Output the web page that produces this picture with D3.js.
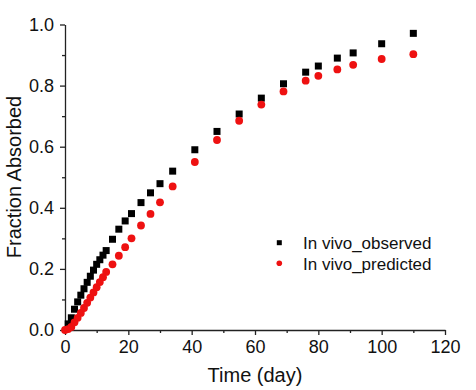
<!DOCTYPE html>
<html><head><meta charset="utf-8">
<script src="https://cdn.jsdelivr.net/npm/d3@7"></script>
<style>body{margin:0;background:#fff}svg{display:block}text{font-family:Arial,"Liberation Sans",sans-serif;fill:#111}</style>
</head><body><svg id="c" width="476" height="390"></svg>
<script>
const obsTime = [1,2,3,4,5,6,7,8,9,10,11,12,13,15,17,19,21,24,27,30,34,41,48,55,62,69,76,80,86,91,100,110];
const obsValue = [0.02,0.04,0.068,0.092,0.114,0.135,0.156,0.176,0.196,0.215,0.23,0.245,0.26,0.297,0.33,0.357,0.381,0.417,0.449,0.479,0.52,0.59,0.65,0.707,0.759,0.806,0.844,0.864,0.89,0.907,0.937,0.971];
const predTime = [0,1,2,3,4,5,6,7,8,9,10,11,12,13,15,17,19,21,24,27,30,34,41,48,55,62,69,76,80,86,91,100,110];
const predValue = [0,0.003,0.01,0.025,0.04,0.056,0.072,0.089,0.106,0.123,0.14,0.157,0.173,0.19,0.215,0.243,0.271,0.30,0.342,0.38,0.418,0.47,0.55,0.622,0.685,0.738,0.781,0.816,0.832,0.853,0.868,0.887,0.903];
const xTicks = [0,20,40,60,80,100,120];
const yTicks = [0.0,0.2,0.4,0.6,0.8,1.0];
const seriesNames = ["In vivo_observed","In vivo_predicted"];

const svg = d3.select("#c");
const x = d3.scaleLinear().domain([0,120]).range([65,445]);
const y = d3.scaleLinear().domain([0,1]).range([330,24.5]);

function axisStyle(g){
  g.select(".domain").attr("stroke","#222").attr("stroke-width",1.3);
  g.selectAll(".tick line").attr("stroke","#222").attr("stroke-width",1.3);
  g.selectAll("text").style("font-size","18px").attr("fill","#111");
}
// minor ticks
svg.append("g").attr("transform","translate(0,330)")
  .call(d3.axisBottom(x).tickValues(d3.range(10,120,20)).tickSize(3).tickFormat(""))
  .call(g=>{g.select(".domain").remove();g.selectAll("line").attr("stroke","#222").attr("stroke-width",1.3);});
svg.append("g").attr("transform","translate(65,0)")
  .call(d3.axisLeft(y).tickValues(d3.range(0.1,1,0.2)).tickSize(3).tickFormat(""))
  .call(g=>{g.select(".domain").remove();g.selectAll("line").attr("stroke","#222").attr("stroke-width",1.3);});
svg.append("g").attr("transform","translate(0,330)")
  .call(d3.axisBottom(x).tickValues(xTicks).tickSize(5).tickSizeOuter(0).tickPadding(5).tickFormat(d3.format("d")))
  .call(axisStyle);
svg.append("g").attr("transform","translate(65,0)")
  .call(d3.axisLeft(y).tickValues(yTicks).tickSize(5).tickSizeOuter(0).tickPadding(6).tickFormat(d3.format(".1f")))
  .call(axisStyle);

svg.append("text").attr("x",255).attr("y",382).attr("text-anchor","middle").style("font-size","20px").text("Time (day)");
svg.append("text").attr("transform","translate(21,177) rotate(-90)").attr("text-anchor","middle").style("font-size","20px").text("Fraction Absorbed");

const obs = obsTime.map((t,i)=>({t,v:obsValue[i]}));
const pred = predTime.map((t,i)=>({t,v:predValue[i]}));
const s = 7;
svg.append("g").selectAll("rect").data(obs).join("rect")
  .attr("x",d=>x(d.t)-s/2).attr("y",d=>y(d.v)-s/2).attr("width",s).attr("height",s).attr("fill","#000");
svg.append("g").selectAll("circle").data(pred).join("circle")
  .attr("cx",d=>x(d.t)).attr("cy",d=>y(d.v)).attr("r",3.9).attr("fill","#ee1111");

const lg = svg.append("g");
lg.append("rect").attr("x",276.8).attr("y",240.2).attr("width",5).attr("height",5).attr("fill","#000");
lg.append("circle").attr("cx",279.3).attr("cy",263.3).attr("r",2.8).attr("fill","#ee1111");
lg.append("text").attr("x",303).attr("y",248.5).style("font-size","17px").text(seriesNames[0]);
lg.append("text").attr("x",303).attr("y",269.5).style("font-size","17px").text(seriesNames[1]);
</script></body></html>
